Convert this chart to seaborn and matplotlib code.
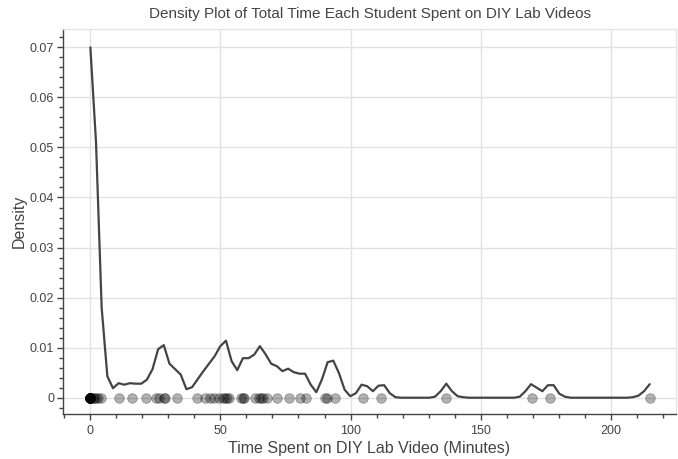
import numpy as np
import pandas as pd
import matplotlib
matplotlib.use("Agg")
import matplotlib.pyplot as plt
import seaborn as sns
from matplotlib.ticker import MultipleLocator, FixedLocator, FuncFormatter

# =============================================================
# DATA
# =============================================================
# KDE evaluation grid (minutes) and density values
grid_minutes = [
    0.0, 2.17, 4.34, 6.52, 8.69, 10.86, 13.03, 15.2, 17.37, 19.55,
    21.72, 23.89, 26.06, 28.23, 30.4, 32.58, 34.75, 36.92, 39.09, 41.26,
    43.43, 45.61, 47.78, 49.95, 52.12, 54.29, 56.46, 58.64, 60.81, 62.98,
    65.15, 67.32, 69.49, 71.67, 73.84, 76.01, 78.18, 80.35, 82.53, 84.7,
    86.87, 89.04, 91.21, 93.38, 95.56, 97.73, 99.9, 102.07, 104.24, 106.41,
    108.59, 110.76, 112.93, 115.1, 117.27, 119.44, 121.62, 123.79, 125.96, 128.13,
    130.3, 132.47, 134.65, 136.82, 138.99, 141.16, 143.33, 145.51, 147.68, 149.85,
    152.02, 154.19, 156.36, 158.54, 160.71, 162.88, 165.05, 167.22, 169.39, 171.57,
    173.74, 175.91, 178.08, 180.25, 182.42, 184.6, 186.77, 188.94, 191.11, 193.28,
    195.45, 197.63, 199.8, 201.97, 204.14, 206.31, 208.48, 210.66, 212.83, 215.0,
]
density = [
    0.0700, 0.0510, 0.0180, 0.0043, 0.0019, 0.0029, 0.0026, 0.0029, 0.0028, 0.0028,
    0.0036, 0.0057, 0.0097, 0.0105, 0.0068, 0.0057, 0.0046, 0.0017, 0.0021, 0.0037,
    0.0053, 0.0068, 0.0083, 0.0103, 0.0114, 0.0073, 0.0055, 0.0079, 0.0079, 0.0086,
    0.0103, 0.0087, 0.0068, 0.0063, 0.0053, 0.0058, 0.0051, 0.0048, 0.0048, 0.0026,
    0.0011, 0.0037, 0.0071, 0.0074, 0.0049, 0.0016, 0.0003, 0.0009, 0.0026, 0.0023,
    0.0013, 0.0024, 0.0025, 0.0009, 0.0001, 0.0, 0.0, 0.0, 0.0, 0.0,
    0.0, 0.0002, 0.0013, 0.0028, 0.0013, 0.0003, 0.0001, 0.0, 0.0, 0.0,
    0.0, 0.0, 0.0, 0.0, 0.0, 0.0, 0.0002, 0.0013, 0.0027, 0.0020,
    0.0013, 0.0025, 0.0025, 0.0008, 0.0002, 0.0, 0.0, 0.0, 0.0, 0.0,
    0.0, 0.0, 0.0, 0.0, 0.0, 0.0, 0.0001, 0.0004, 0.0013, 0.0027,
]

# total minutes per student (rug points)
student_minutes = [
    0, 0, 0, 0, 0, 0, 0, 0, 0, 0, 0, 0,
    1, 1.5, 2, 3, 4, 10.9, 16, 21.2, 25.3, 26.5, 28.3, 28.7,
    33.2, 40.9, 44.1, 46, 47.7, 49.4, 50.9, 51.8, 52.4, 53.2,
    57.9, 58.5, 59.2, 63.1, 65, 65.6, 66.2, 67.8, 71.7, 76.3,
    80.6, 82.7, 90.3, 91, 94.2, 104.7, 111.8, 136.8, 169.9, 176.8, 215,
]

y_ticks = [0, 0.01, 0.02, 0.03, 0.04, 0.05, 0.06, 0.07]
x_ticks = [0, 50, 100, 150, 200]

# =============================================================
# PLOT
# =============================================================
sns.set_style("white")
plt.rcParams['font.family'] = ['Liberation Sans', 'DejaVu Sans']

curve = pd.DataFrame({'minutes': grid_minutes, 'density': density})
rug = pd.DataFrame({'minutes': student_minutes,
                    'zero': [0.0] * len(student_minutes)})

fig = plt.figure(figsize=(6.78, 4.59), dpi=100)
ax = fig.add_axes([0.093, 0.098, 0.904, 0.839])

sns.lineplot(data=curve, x='minutes', y='density', ax=ax,
             color='#444444', linewidth=1.6)
sns.scatterplot(data=rug, x='minutes', y='zero', ax=ax,
                color='black', alpha=0.3, s=48, edgecolor='black',
                linewidth=0.6)

ax.set_xlim(-10.5, 225.1)
ax.set_ylim(-0.00326, 0.07368)

ax.xaxis.set_major_locator(FixedLocator(x_ticks))
ax.xaxis.set_minor_locator(MultipleLocator(10))
ax.yaxis.set_major_locator(FixedLocator(y_ticks))
ax.yaxis.set_minor_locator(MultipleLocator(0.002))
ax.yaxis.set_major_formatter(FuncFormatter(lambda v, p: '0' if v == 0 else f'{v:g}'))

ax.grid(True, which='major', color='#e2e2e2', linewidth=1)
ax.set_axisbelow(True)

ax.tick_params(which='major', direction='out', length=4, width=1,
               color='#444444', labelsize=9, labelcolor='#444444',
               bottom=True, left=True)
ax.tick_params(axis='x', which='major', pad=4)
ax.tick_params(axis='y', which='major', pad=2.5)
ax.tick_params(which='minor', direction='out', length=3, width=1,
               color='#444444', bottom=True, left=True)

for side in ['left', 'bottom']:
    ax.spines[side].set_color('#444444')
    ax.spines[side].set_linewidth(1)
for side in ['top', 'right']:
    ax.spines[side].set_color('#e5e5e5')
    ax.spines[side].set_linewidth(1)

ax.set_xlabel('Time Spent on DIY Lab Video (Minutes)', fontsize=11.5,
              color='#444444', labelpad=3)
ax.set_ylabel('Density', fontsize=11.5, color='#444444', labelpad=2)
ax.set_title('Density Plot of Total Time Each Student Spent on DIY Lab Videos',
             fontsize=11, color='#444444', pad=8)

plt.savefig('out.png', dpi=100)
